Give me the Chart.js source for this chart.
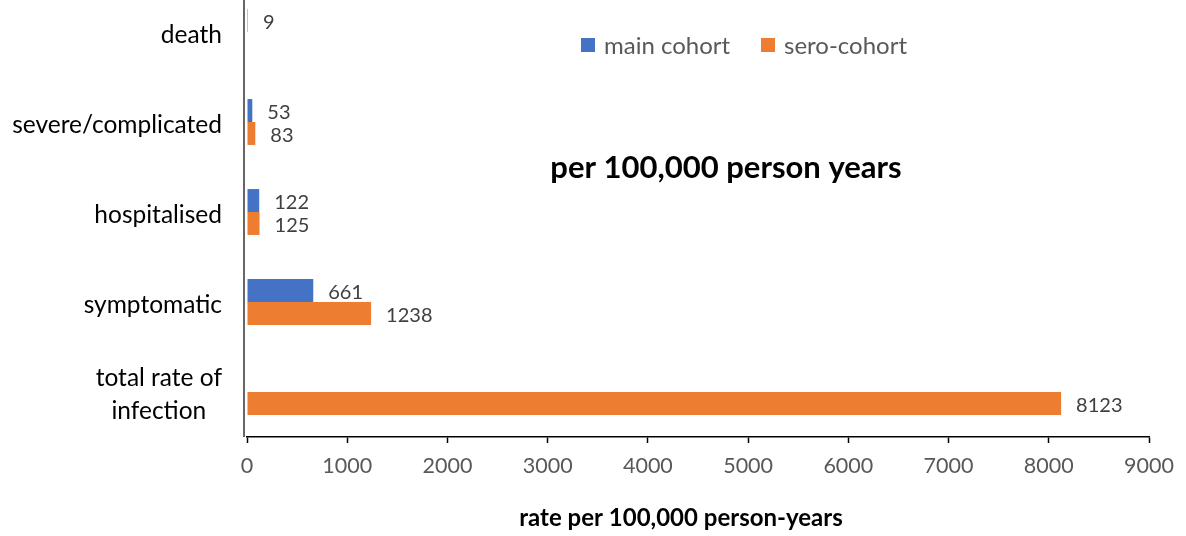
<!DOCTYPE html>
<html>
<head>
<meta charset="utf-8">
<script src="https://cdn.jsdelivr.net/npm/chart.js@4/dist/chart.umd.min.js"></script>
<style>
  html, body { margin: 0; padding: 0; background: #fff; overflow: hidden; }
  #wrap { position: absolute; left: 0; top: -13px; width: 1186px; height: 549px; }
</style>
</head>
<body>
<div id="wrap"><canvas id="c"></canvas></div>
<script>
// Outcome categories (top to bottom) and rates per 100,000 person-years
const categories = ['death', 'severe/complicated', 'hospitalised', 'symptomatic', ['total rate of', 'infection']];
const mainCohort = [9, 53, 122, 661, null];
const seroCohort = [null, 83, 125, 1238, 8123];
const seriesNames = ['main cohort', 'sero-cohort'];
const xMin = 0, xMax = 9000, xStep = 1000;
const noteText = 'per 100,000 person years';
const axisTitle = 'rate per 100,000 person-years';

const FONT = "Lato, 'Open Sans', sans-serif";

// value labels to the right of each bar
const valueLabels = {
  id: 'valueLabels',
  afterDatasetsDraw(chart) {
    const ctx = chart.ctx;
    ctx.save();
    ctx.font = '20px ' + FONT;
    ctx.fillStyle = '#404040';
    ctx.textAlign = 'left';
    ctx.textBaseline = 'middle';
    chart.data.datasets.forEach((ds, i) => {
      chart.getDatasetMeta(i).data.forEach((el, j) => {
        const v = ds.data[j];
        if (v === null || v === undefined) return;
        ctx.fillText(String(v), el.x + 15, el.y + 2);
      });
    });
    ctx.restore();
  }
};

// category labels: right-aligned blocks, multi-line labels centred within their block
const categoryLabels = {
  id: 'categoryLabels',
  afterDraw(chart) {
    const ctx = chart.ctx;
    const yScale = chart.scales.y;
    const right = chart.chartArea.left - 25;
    const lineH = 33;
    ctx.save();
    ctx.font = '24.5px ' + FONT;
    ctx.fillStyle = '#000';
    ctx.textAlign = 'center';
    ctx.textBaseline = 'middle';
    chart.data.labels.forEach((lab, i) => {
      const lines = Array.isArray(lab) ? lab : [lab];
      const widest = Math.max(...lines.map(t => ctx.measureText(t).width));
      const cx = right - widest / 2;
      const cy = yScale.getPixelForTick(i) + 3;
      const y0 = cy - (lines.length - 1) * lineH / 2;
      lines.forEach((t, k) => ctx.fillText(t, cx, y0 + k * lineH));
    });
    ctx.restore();
  }
};

// vertical axis line, legend, note and axis title
const decorations = {
  id: 'decorations',
  afterDraw(chart) {
    const ctx = chart.ctx;
    const area = chart.chartArea;
    const x0 = chart.scales.x.getPixelForValue(0) - 3;
    ctx.save();
    ctx.strokeStyle = '#404040';
    ctx.lineWidth = 1.6;
    ctx.beginPath();
    ctx.moveTo(x0, area.top);
    ctx.lineTo(x0, area.bottom);
    ctx.stroke();

    // legend
    ctx.font = '24px ' + FONT;
    ctx.textBaseline = 'middle';
    ctx.textAlign = 'left';
    const legendPos = [581, 761];
    const ly = 58;
    chart.data.datasets.forEach((ds, i) => {
      const lx = legendPos[i];
      ctx.fillStyle = ds.backgroundColor;
      ctx.fillRect(lx, ly - 7, 14, 14);
      ctx.fillStyle = '#595959';
      ctx.fillText(ds.label, lx + 23, ly + 1);
    });

    // note inside the plot
    ctx.font = 'bold 31px ' + FONT;
    ctx.fillStyle = '#000';
    ctx.textAlign = 'center';
    ctx.fillText(noteText, 726, 181);

    // axis title
    ctx.font = 'bold 24px ' + FONT;
    ctx.fillText(axisTitle, 681, 531);
    ctx.restore();
  }
};

new Chart(document.getElementById('c'), {
  type: 'bar',
  data: {
    labels: categories,
    datasets: [
      { label: seriesNames[0], data: mainCohort, backgroundColor: '#4472C4',
        categoryPercentage: 0.51, barPercentage: 1 },
      { label: seriesNames[1], data: seroCohort, backgroundColor: '#ED7D31',
        categoryPercentage: 0.51, barPercentage: 1 }
    ]
  },
  options: {
    indexAxis: 'y',
    responsive: true,
    maintainAspectRatio: false,
    animation: false,
    layout: { padding: { left: 0, right: 37, top: 0, bottom: 0 } },
    plugins: {
      legend: { display: false },
      tooltip: { enabled: false },
      title: { display: false }
    },
    scales: {
      x: {
        type: 'linear',
        min: xMin, max: xMax,
        ticks: { stepSize: xStep, color: '#595959', font: { family: FONT, size: 21.5 }, padding: 10,
                 callback: v => String(v) },
        grid: { drawOnChartArea: false, drawTicks: true, tickLength: 6, color: '#000', tickWidth: 1.5 },
        border: { display: true, color: '#000', width: 1.5 },
        afterFit(scale) { scale.height = 99; scale.paddingLeft = 0; scale.paddingRight = 0; }
      },
      y: {
        ticks: { display: false },
        grid: { display: false, drawTicks: false },
        border: { display: false },
        afterFit(scale) { scale.width = 247; scale.paddingTop = 0; scale.paddingBottom = 0; }
      }
    }
  },
  plugins: [valueLabels, categoryLabels, decorations]
});
</script>
</body>
</html>
